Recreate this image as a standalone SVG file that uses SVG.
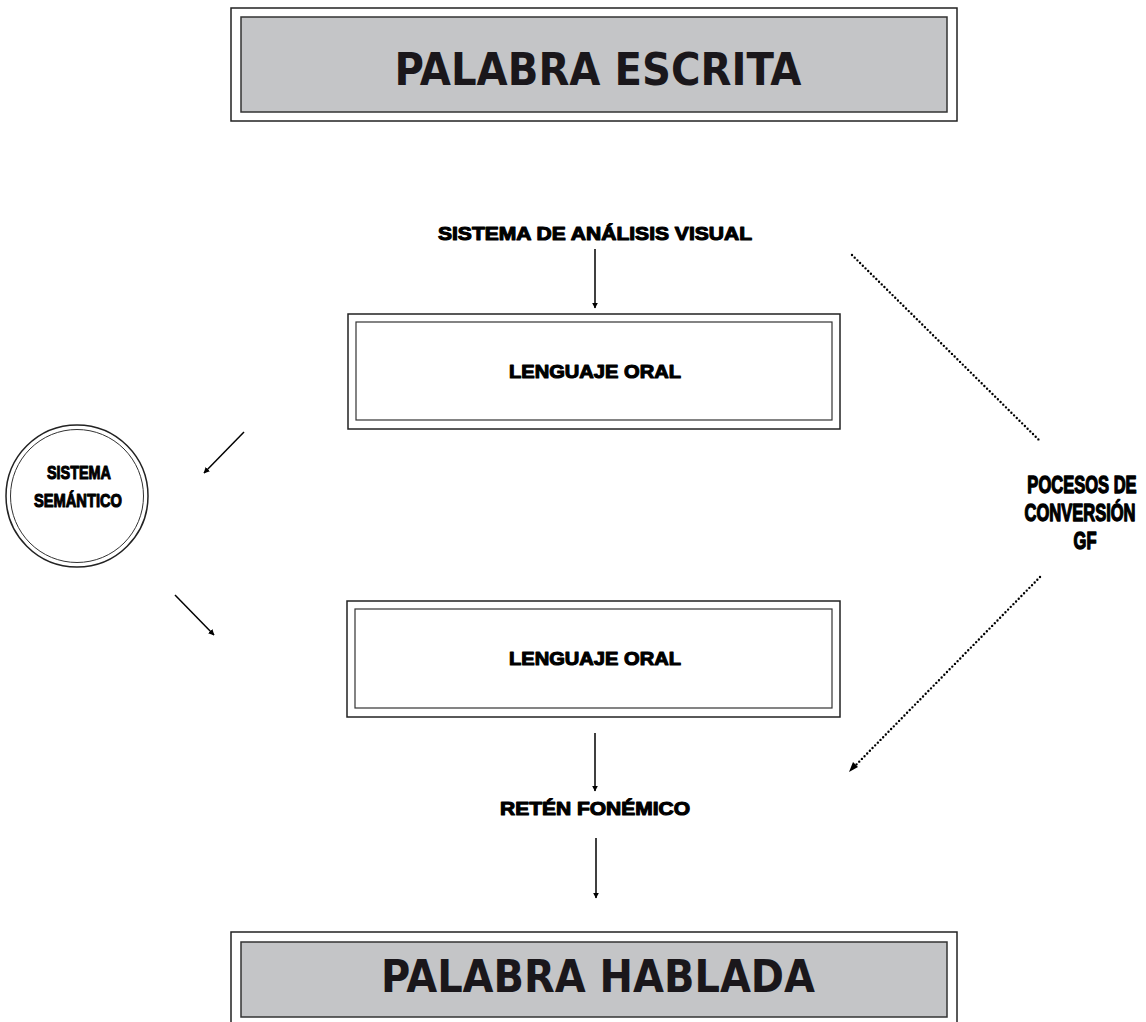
<svg xmlns="http://www.w3.org/2000/svg" width="1146" height="1022" viewBox="0 0 1146 1022">
<style>
.title{font-family:"Liberation Sans Narrow","DejaVu Sans Condensed","Liberation Sans",sans-serif;font-weight:bold;font-size:45px;fill:#1a171b;text-anchor:middle}
.lbl{font-family:"Liberation Sans","Arial",sans-serif;font-weight:bold;font-size:19px;fill:#000;stroke:#000;stroke-width:1.1;stroke-linejoin:round;text-anchor:middle}
.outer{fill:#fff;stroke:#222;stroke-width:1.5}
.inner{fill:none;stroke:#333;stroke-width:1.2}
.grey{fill:#c4c5c7;stroke:#333;stroke-width:1.5}
.ln{stroke:#000;stroke-width:1.5;fill:none}
.dot{stroke:#000;stroke-width:2.4;fill:none;stroke-dasharray:0 3.8;stroke-linecap:round}
</style>
<defs>
<marker id="ah" viewBox="0 0 10 10" refX="9" refY="5" markerWidth="6" markerHeight="6" orient="auto" markerUnits="userSpaceOnUse"><path d="M0,0 L10,5 L0,10 z" fill="#000"/></marker>
</defs>
<rect width="1146" height="1022" fill="#fff"/>
<g id="palabra-escrita">
<rect class="outer" x="231" y="8" width="726" height="113"/>
<rect class="grey" x="241" y="17" width="706" height="95"/>
<text class="title" x="598" y="85" textLength="407" lengthAdjust="spacingAndGlyphs">PALABRA ESCRITA</text>
</g>
<g id="analisis-visual">
<text class="lbl" x="595" y="240" font-size="21" textLength="314" lengthAdjust="spacingAndGlyphs">SISTEMA DE ANÁLISIS VISUAL</text>
</g>
<g id="lenguaje-oral-1">
<rect class="outer" x="348" y="314" width="492" height="115"/>
<rect class="inner" x="356" y="322" width="476" height="98"/>
<text class="lbl" x="595" y="378" textLength="172" lengthAdjust="spacingAndGlyphs">LENGUAJE ORAL</text>
</g>
<g id="sistema-semantico">
<circle cx="77" cy="496" r="71" fill="#fff" stroke="#222" stroke-width="1.5"/>
<circle cx="77" cy="496" r="66.5" fill="none" stroke="#333" stroke-width="1"/>
<text class="lbl" x="79" y="479" font-size="21" textLength="64" lengthAdjust="spacingAndGlyphs">SISTEMA</text>
<text class="lbl" x="78" y="507" font-size="21" textLength="88" lengthAdjust="spacingAndGlyphs">SEMÁNTICO</text>
</g>
<g id="lenguaje-oral-2">
<rect class="outer" x="347" y="601" width="493" height="116"/>
<rect class="inner" x="355" y="609" width="477" height="99"/>
<text class="lbl" x="595" y="665" textLength="172" lengthAdjust="spacingAndGlyphs">LENGUAJE ORAL</text>
</g>
<g id="conversion-gf">
<text class="lbl" transform="translate(1082,493) scale(0.87,1.25)" font-size="16.5">POCESOS DE</text>
<text class="lbl" transform="translate(1080,521) scale(0.87,1.25)" font-size="16.5">CONVERSIÓN</text>
<text class="lbl" transform="translate(1085,549) scale(0.87,1.25)" font-size="16.5">GF</text>
</g>
<g id="reten-fonemico">
<text class="lbl" x="595" y="815" textLength="190" lengthAdjust="spacingAndGlyphs">RETÉN FONÉMICO</text>
</g>
<g id="palabra-hablada">
<rect class="outer" x="231" y="932" width="726" height="100"/>
<rect class="grey" x="241" y="942" width="706" height="75"/>
<text class="title" x="598" y="992" textLength="434" lengthAdjust="spacingAndGlyphs">PALABRA HABLADA</text>
</g>
<g id="connectors">
<line class="ln" x1="595" y1="249" x2="595" y2="308" marker-end="url(#ah)"/>
<line class="ln" x1="244" y1="432" x2="204" y2="473" marker-end="url(#ah)"/>
<line class="ln" x1="175" y1="595" x2="214" y2="635" marker-end="url(#ah)"/>
<line class="ln" x1="595" y1="733" x2="595" y2="791" marker-end="url(#ah)"/>
<line class="ln" x1="596" y1="838" x2="596" y2="898" marker-end="url(#ah)"/>
<line class="dot" x1="852" y1="255" x2="1040" y2="441"/>
<line class="dot" x1="1040" y1="577" x2="853" y2="768"/>
<path d="M849,772 L853,762 L858,767 z" fill="#000"/>
</g>
</svg>
